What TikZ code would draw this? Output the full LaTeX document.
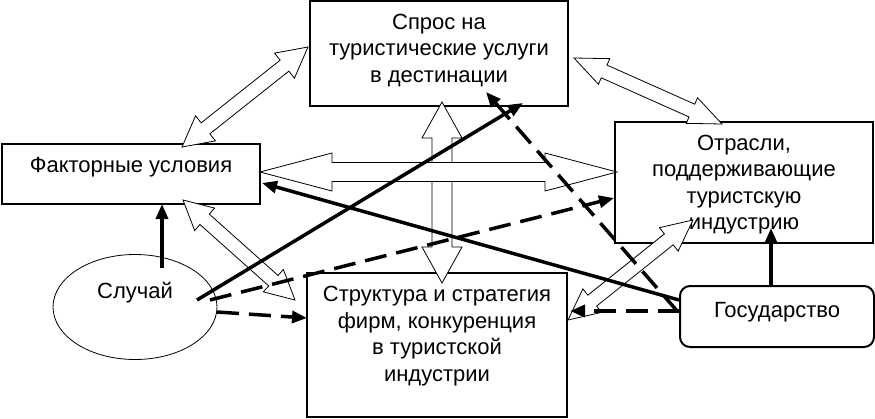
\documentclass[tikz,border=0pt]{standalone}
\usepackage{fontspec}
\setmainfont{Liberation Sans}
\usetikzlibrary{calc,arrows.meta,shapes.geometric}
\newcommand{\blockarrow}[5]{%
  \coordinate (ba1) at ($(#1)!#3!(#2)$);
  \coordinate (ba2) at ($(#2)!#3!(#1)$);
  \draw[blockarr] (#1) -- ($(ba1)!#4!90:(#2)$) -- ($(ba1)!#5!90:(#2)$)
    -- ($(ba2)!#5!-90:(#1)$) -- ($(ba2)!#4!-90:(#1)$) -- (#2)
    -- ($(ba2)!#4!90:(#1)$) -- ($(ba2)!#5!90:(#1)$)
    -- ($(ba1)!#5!-90:(#2)$) -- ($(ba1)!#4!-90:(#2)$) -- cycle;}
\begin{document}
\begin{tikzpicture}[x=1pt,y=-1pt,
    font=\fontsize{22}{26.5}\selectfont,
    >={Triangle[length=15pt,width=12pt]},
    boxnode/.style={draw,line width=2pt,align=center,inner sep=0pt,outer sep=0pt},
    blockarr/.style={draw,fill=white,line width=0.8pt},
    link/.style={->,line width=3.5pt},
    dlink/.style={->,line width=3.5pt,dash pattern=on 22pt off 10pt}]
  \useasboundingbox (0,0) rectangle (875,418);
  % boxes
  \node[boxnode,minimum width=258pt,minimum height=105pt,text depth=11pt] (spros) at (439,53.5)
    {Спрос на\\туристические услуги\\в дестинации};
  \node[boxnode,minimum width=258pt,minimum height=60pt,text depth=18pt] (fak) at (131,174)
    {Факторные условия};
  \node[boxnode,minimum width=258pt,minimum height=121pt,text depth=0pt] (otr) at (744,182.5)
    {Отрасли,\\поддерживающие\\туристскую\\индустрию};
  \node[boxnode,minimum width=260pt,minimum height=144pt,text depth=22.5pt] (str) at (437,345)
    {Структура и стратегия\\фирм, конкуренция\\в туристской\\индустрии};
  \node[boxnode,rounded corners=10pt,minimum width=194pt,minimum height=61pt,text depth=13pt] (gos) at (777,316.5)
    {Государство};
  \node[draw,ellipse,line width=0.8pt,inner sep=0pt,outer sep=0pt,minimum width=164pt,minimum height=105pt,text depth=34pt] (sluchaj) at (135,307)
    {Случай};
  % block arrow ends
  \coordinate (ss1) at ($(spros.south)+(3,-4)$);
  \coordinate (ss2) at ($(str.north)+(5,10)$);
  \coordinate (fo1) at ($(fak.east)+(0,-2)$);
  \coordinate (fo2) at ($(otr.west)+(2,-10.5)$);
  \coordinate (fs1) at ($(fak.north)+(51,3)$);
  \coordinate (fs2) at ($(spros.west)+(-2,-6.5)$);
  \coordinate (so1) at ($(spros.east)+(6,4.5)$);
  \coordinate (so2) at ($(otr.north)+(-22,2)$);
  \coordinate (fst1) at ($(fak.south)+(52,-4)$);
  \coordinate (fst2) at ($(str.west)+(-12,-45)$);
  \coordinate (ost1) at ($(str.east)+(1,-25)$);
  \coordinate (ost2) at ($(otr.south)+(-51,-23)$);
  \foreach \ta/\tb/\hl/\hw/\sw in {ss1/ss2/36pt/20pt/10pt, fo1/fo2/72pt/19pt/9.5pt,
      fs1/fs2/30pt/16pt/7pt, so1/so2/33pt/14pt/7pt, fst1/fst2/29pt/15pt/7pt, ost1/ost2/31pt/15pt/7pt}
    {\blockarrow{\ta}{\tb}{\hl}{\hw}{\sw}}
  % solid links
  \draw[link] ($(sluchaj.center)+(27,-39)$) -- ($(fak.south)+(31,0)$);
  \draw[link] ($(sluchaj.center)+(62,-7)$) -- ($(spros.south)+(84,-3)$);
  \draw[link] ($(gos.west)+(-1,-16.5)$) -- ($(fak.east)+(2,9)$);
  \draw[link] ($(gos.north)+(-6,0)$) -- ($(otr.south)+(27,-15)$);
  % dashed links
  \draw[dlink] ($(sluchaj.east)+(0,5)$) -- ($(str.west)+(0,-27)$);
  \draw[dlink] ($(sluchaj.center)+(75,-7)$) -- ($(otr.west)+(-1,15.5)$);
  \draw[dlink] ($(gos.west)+(0,-5.5)$) -- ($(str.east)+(3,-34)$);
  \draw[dlink] ($(gos.west)+(-2,-4.5)$) -- ($(spros.south)+(47,-14)$);
\end{tikzpicture}
\end{document}
